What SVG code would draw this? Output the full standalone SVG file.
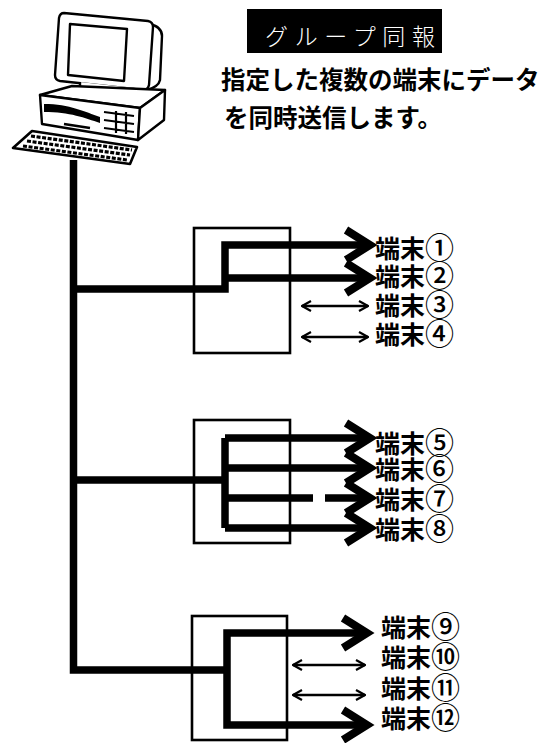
<svg xmlns="http://www.w3.org/2000/svg" width="543" height="743" viewBox="0 0 543 743">
  <style>
    .thick { fill: none; stroke: #000; stroke-width: 7.5; stroke-linejoin: miter; stroke-linecap: butt; }
    .head { fill: none; stroke: #000; stroke-width: 8; stroke-linejoin: miter; stroke-miterlimit: 6; }
    .thin { fill: none; stroke: #000; stroke-width: 2.4; }
    .box { fill: #fff; stroke: #000; stroke-width: 2.6; }
    .pc { fill: #fff; stroke: #000; stroke-width: 2.4; stroke-linejoin: round; }
    .label { font-family: "Noto Sans CJK JP", "Noto Sans", sans-serif; font-size: 25px; font-weight: 700; fill: #000; }
    .num { font-size: 29px; font-weight: 500; }
    .body { font-family: "Noto Sans CJK JP", "Noto Sans", sans-serif; font-size: 24.5px; font-weight: 700; fill: #000; }
    .title { font-family: "Noto Sans CJK JP", "Noto Sans", sans-serif; font-size: 23px; font-weight: 300; fill: #fff; }
  </style>
  <defs>
    <marker id="open" viewBox="0 0 12 12" refX="11" refY="6" markerWidth="12" markerHeight="12" markerUnits="userSpaceOnUse" orient="auto-start-reverse">
      <path d="M2,1 L11,6 L2,11" fill="none" stroke="#000" stroke-width="2.2"/>
    </marker>
  </defs>
  <rect width="543" height="743" fill="#fff"/>

  <!-- host computer -->
  <g id="computer">
    <!-- CRT body behind the bezel -->
    <path class="pc" d="M150,24 C158,26 162,30 162,36 L160,80 C159,85 154,88 147,90 Z"/>
    <!-- monitor bezel -->
    <path class="pc" d="M64,13 L148,21 Q153,22 153,27 L149,85 Q148,90 143,90 L60,81 Q55,80 55,75 L59,18 Q60,13 64,13 Z"/>
    <path class="pc" d="M70,24 L127,29 L124,81 L68,75 Z"/>
    <path class="pc" d="M80,82 L80,90 L132,95 L134,88"/>
    <!-- system unit -->
    <path class="pc" d="M40,95 L72,86 L165,90 L140,108 Z"/>
    <path class="pc" d="M40,95 L140,108 L138,140 L42,124 Z"/>
    <path class="pc" d="M140,108 L165,90 L164,120 L138,140 Z"/>
    <path d="M44,104 C70,104 85,112 100,117 L100,123 C85,118 70,112 44,112 Z" fill="#000"/>
    <path d="M104,112 L134,116 M104,120 L134,124 M104,128 L134,132 M116,111 L116,133 M126,112 L126,134" stroke="#000" stroke-width="2.2" fill="none"/>
    <path d="M64,124 L90,128" stroke="#000" stroke-width="2.5"/>
    <!-- keyboard -->
    <path d="M32,131 L137,147 L130,164 L13,148 Z" fill="#fff" stroke="#000" stroke-width="2.6" stroke-linejoin="round"/>
    <path d="M31,136 L132,150 M27,141 L130,155 M23,146 L127,160" stroke="#000" stroke-width="3.2" stroke-dasharray="4 1.6" fill="none"/>
  </g>

  <!-- title and caption -->
  <g id="title">
    <rect x="247" y="9" width="195" height="44" fill="#000"/>
    <text class="title" x="265" y="45" textLength="170" lengthAdjust="spacing">グループ同報</text>
  </g>
  <g id="caption">
    <text class="body" x="221" y="89">指定した複数の端末にデータ</text>
    <text class="body" x="224" y="127">を同時送信します。</text>
  </g>

  <!-- switching units -->
  <g id="unit1"><rect class="box" x="194" y="228" width="96" height="125"/></g>
  <g id="unit2"><rect class="box" x="194" y="420" width="96" height="123"/></g>
  <g id="unit3"><rect class="box" x="192" y="616" width="95" height="124"/></g>

  <!-- connectors -->
  <g id="connectors">
    <!-- trunk -->
    <path class="thick" d="M73.5,160 L73.5,670 L227,670"/>
    <!-- unit 1 -->
    <path class="thick" d="M73.5,289 L225,289 L225,245 L366,245"/>
    <path class="thick" d="M225,278 L366,278"/>
    <path class="head" d="M346,230 L370,245 L346,260"/>
    <path class="head" d="M346,263 L370,278 L346,293"/>
    <path class="thin" d="M302,306 L368,306" marker-start="url(#open)" marker-end="url(#open)"/>
    <path class="thin" d="M302,337 L368,337" marker-start="url(#open)" marker-end="url(#open)"/>
    <!-- unit 2 -->
    <path class="thick" d="M73.5,480 L225,480"/>
    <path class="thick" d="M225,438 L225,528"/>
    <path class="thick" d="M225,438 L366,438 M225,468 L366,468 M225,498 L313,498 M325,498 L366,498 M225,528 L366,528"/>
    <path class="head" d="M346,423 L370,438 L346,453"/>
    <path class="head" d="M346,453 L370,468 L346,483"/>
    <path class="head" d="M346,483 L370,498 L346,513"/>
    <path class="head" d="M346,513 L370,528 L346,543"/>
    <!-- unit 3 -->
    <path class="thick" d="M366,633 L227,633 L227,725 L366,725"/>
    <path class="head" d="M343,618 L367,633 L343,648"/>
    <path class="head" d="M343,710 L367,725 L343,740"/>
    <path class="thin" d="M293,665 L365,665" marker-start="url(#open)" marker-end="url(#open)"/>
    <path class="thin" d="M293,695 L365,695" marker-start="url(#open)" marker-end="url(#open)"/>
  </g>

  <!-- terminal labels -->
  <g id="terminals">
    <text class="label" x="375" y="258">端末<tspan class="num" dy="1">①</tspan></text>
    <text class="label" x="375" y="286">端末<tspan class="num" dy="1">②</tspan></text>
    <text class="label" x="375" y="315">端末<tspan class="num" dy="1">③</tspan></text>
    <text class="label" x="375" y="344">端末<tspan class="num" dy="1">④</tspan></text>
    <text class="label" x="375" y="453">端末<tspan class="num" dy="1">⑤</tspan></text>
    <text class="label" x="375" y="479">端末<tspan class="num" dy="1">⑥</tspan></text>
    <text class="label" x="375" y="509">端末<tspan class="num" dy="1">⑦</tspan></text>
    <text class="label" x="375" y="539">端末<tspan class="num" dy="1">⑧</tspan></text>
    <text class="label" x="381" y="637">端末<tspan class="num" dy="1">⑨</tspan></text>
    <text class="label" x="381" y="667">端末<tspan class="num" dy="1">⑩</tspan></text>
    <text class="label" x="381" y="698">端末<tspan class="num" dy="1">⑪</tspan></text>
    <text class="label" x="381" y="728">端末<tspan class="num" dy="1">⑫</tspan></text>
  </g>
</svg>
